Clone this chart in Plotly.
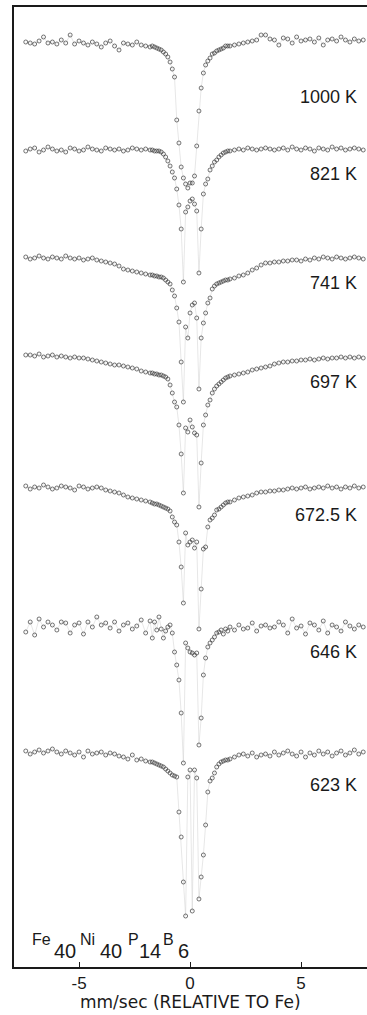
import plotly.graph_objects as go

# Doppler velocity of each channel (mm/s, relative to alpha-Fe)
velocity = [
    -7.4, -7.2, -7.0, -6.8, -6.6, -6.4, -6.2, -6.0, -5.8, -5.6, -5.4, -5.2, -5.0, -4.8, -4.6,
    -4.4, -4.2, -4.0, -3.8, -3.6, -3.4, -3.2, -3.0, -2.8, -2.6, -2.4, -2.2, -2.0, -1.8,
    -1.7, -1.6, -1.5, -1.4, -1.3, -1.2, -1.1, -1.0, -0.9, -0.8, -0.7, -0.6, -0.5, -0.4,
    -0.3, -0.2, -0.1, 0.0, 0.1, 0.2, 0.3, 0.4, 0.5, 0.6, 0.7, 0.8, 0.9, 1.0, 1.1, 1.2,
    1.3, 1.4, 1.5, 1.6, 1.7,
    1.8, 2.0, 2.2, 2.4, 2.6, 2.8, 3.0, 3.2, 3.4, 3.6, 3.8, 4.0, 4.2, 4.4, 4.6, 4.8, 5.0,
    5.2, 5.4, 5.6, 5.8, 6.0, 6.2, 6.4, 6.6, 6.8, 7.0, 7.2, 7.4, 7.6, 7.8,
]

temperatures = ["1000 K", "821 K", "741 K", "697 K", "672.5 K", "646 K", "623 K"]

# Resonant absorption of each channel, in per mille
absorption_1000K = [
    -1, 0, 1, -2, -6, 0, -1, 1, -3, 0, -8, 1, -2, 0, 2, -1, 1, 4, 0, -2, 3, 7, 0, 1, 2, -1, 2, 3, 4,
    3, 4, 5, 6, 7, 9, 11, 14, 19, 26,
    34, 77, 100, 124, 135, 141, 145, 140, 140, 133, 103, 68,
    45, 30, 22, 18, 15, 11, 10, 8, 7, 6, 5, 3, 3,
    3, 2, 1, 0, -1, -2, -3, -8, -8, -4, -3, 2, -5, -4, 0, -6, -2, -3, -4, -1, -5, 2, -3, -4,
    -2, -6, -3, -1, -4, -2, -3,
]
absorption_821K = [
    2, 0, -1, 3, 1, -2, 0, 2, 1, 3, -1, 0, 2, 1, -2, 0, 1, 2, -1, 0, 1, 0, 2, 1, -1, 0, 1, 0, 1,
    1, 2, 2, 2, 3, 5, 8, 12, 17, 23,
    29, 40, 56, 80, 133, 63, 58, 52, 50, 55, 62, 124,
    80, 45, 35, 30, 21, 17, 13, 11, 8, 6, 4, 3, 2,
    2, 1, 0, 1, -1, 0, 1, 0, -1, 0, 1, 0, -1, 1, -2, 0, 1, -1, 0, 2, -1, 0, 1, -2, 0, -1, 1,
    0, -1, 0, 1,
]
absorption_741K = [
    -1, 1, 0, -2, 0, 1, -1, 0, 1, -2, 0, 1, 0, 2, 1, 0, 2, 3, 4, 5, 6, 8, 11, 12, 13, 14, 15, 16, 17,
    17, 18, 18, 19, 19, 20, 22, 24, 26, 32,
    38, 50, 64, 104, 144, 69, 80, 55, 47, 45, 60, 131,
    80, 65, 55, 45, 40, 31, 28, 26, 25, 24, 23, 22, 22,
    21, 20, 18, 17, 15, 12, 10, 7, 5, 5, 4, 4, 3, 3, 2, 2, 3, 1, 2, 0, 1, -1, 0, 1, -1, 0, 1,
    0, -1, 0, 1,
]
absorption_697K = [
    0, 0, 1, -1, 2, 1, 0, 2, 1, 2, 3, 2, 3, 3, 4, 5, 6, 7, 8, 9, 10, 10, 11, 12, 13, 14, 16, 17, 18,
    18, 19, 19, 20, 20, 21, 22, 24, 30, 38,
    47, 52, 70, 99, 138, 73, 77, 65, 72, 78, 80, 152,
    108, 70, 60, 50, 45, 38, 34, 31, 29, 27, 25, 23, 22,
    21, 20, 19, 18, 17, 15, 14, 13, 12, 11, 9, 8, 7, 7, 6, 6, 5, 5, 4, 5, 4, 3, 4, 3, 3, 2, 3,
    2, 3, 2, 3,
]
absorption_672K = [
    -1, 2, 0, 1, -2, 0, 2, 1, -1, 0, 1, 3, -1, 0, 2, 1, 0, 1, 3, 4, 5, 6, 8, 10, 11, 12, 13, 14, 15,
    16, 17, 17, 18, 19, 20, 21, 22, 24, 30,
    35, 38, 55, 80, 116, 46, 58, 55, 53, 61, 55, 142,
    102, 62, 60, 40, 33, 31, 28, 23, 22, 20, 18, 16, 15,
    15, 13, 11, 10, 9, 8, 6, 5, 5, 4, 4, 3, 3, 2, 1, 2, 1, 0, 2, 1, 0, 1, -1, 1, 0, 2, 0, 1,
    -1, 1, 0,
]
absorption_646K = [
    7, -3, 10, -6, 2, -3, 0, 5, -3, -2, 8, 0, -2, 9, -3, 2, -8, 0, -2, 3, -3, 6, 0, -2, 4, 1, -5, 8, -4,
    13, -3, 5, -8, 4, 13, 6, 2, 0, 8,
    27, 40, 55, 88, 138, 18, 23, 27, 28, 30, 28, 120,
    93, 50, 33, 22, 18, 15, 12, 8, 7, 5, 9, 4, 6,
    2, 5, 0, 4, 3, -2, 6, 1, 0, 3, 2, -3, 0, 8, -6, 3, 1, 9, -2, 0, 5, -4, 8, 0, 2, 6, -3, 1,
    4, 0, 2,
]
absorption_623K = [
    0, 3, 1, -1, 2, 0, -2, 1, 3, 0, 2, 4, 1, 6, 0, 3, 2, 1, 4, 2, 3, 5, 6, 8, 4, 9, 8, 10, 11,
    11, 12, 13, 14, 15, 16, 18, 20, 22, 24,
    25, 26, 61, 86, 131, 165, 26, 19, 160, 19, 27, 148,
    126, 104, 74, 41, 30, 27, 22, 16, 13, 11, 10, 9, 9,
    8, 6, 4, 3, 5, 2, 6, 4, 3, 5, 1, 4, 2, 0, 3, 5, 1, 6, 2, 4, 0, 3, 1, 5, 2, 0, 4, 2, -1, 3, 1,
]

spectra = [
    absorption_1000K, absorption_821K, absorption_741K, absorption_697K,
    absorption_672K, absorption_646K, absorption_623K,
]

# Vertical stacking: baseline of each spectrum on the shared per-mille axis
stack_offsets = [924, 818, 709, 612, 480, 342, 216]
label_heights = [870, 793, 684, 585, 452, 315, 182]

FONT = "Liberation Sans"
WIDE_FONT = "DejaVu Sans"
INK = "#1a1a1a"

fig = go.Figure()

for absorption, offset in zip(spectra, stack_offsets):
    fig.add_trace(go.Scatter(
        x=velocity,
        y=[offset - a for a in absorption],
        mode="lines+markers",
        line=dict(color="#cfcfcf", width=0.5),
        marker=dict(symbol="circle-open", size=4, color="#3a3a3a",
                    line=dict(width=0.7, color="#3a3a3a")),
        showlegend=False,
        hoverinfo="skip",
        cliponaxis=True,
    ))

# Temperature of each run, right-aligned next to its spectrum
for label, h in zip(temperatures, label_heights):
    fig.add_annotation(
        x=7.62, y=h, xref="x", yref="y", text=label, showarrow=False,
        xanchor="right", yanchor="middle",
        font=dict(family=FONT, size=18, color=INK),
    )

# Alloy composition Fe40Ni40P14B6 with lowered indices
composition = [
    ("Fe", -7.21, 28, 16), ("40", -6.22, 16, 20),
    ("Ni", -5.05, 28, 16), ("40", -4.14, 16, 20),
    ("P", -2.88, 28, 16), ("14", -2.39, 16, 20),
    ("B", -1.30, 28, 16), ("6", -0.62, 16, 20),
]
for text, x, y, size in composition:
    fig.add_annotation(
        x=x, y=y, xref="x", yref="y", text=text, showarrow=False,
        xanchor="left", yanchor="middle",
        font=dict(family=FONT, size=size, color=INK),
    )

# Axis caption below the tick labels
fig.add_annotation(
    x=0.4986, y=-0.036, xref="paper", yref="paper",
    text="mm/sec (RELATIVE TO Fe)", showarrow=False,
    xanchor="center", yanchor="middle",
    font=dict(family=WIDE_FONT, size=17, color=INK),
)

fig.update_xaxes(
    range=[-7.93, 7.97],
    tickvals=[-5, 0, 5],
    ticktext=["-5", "0", "5"],
    ticks="inside", ticklen=5, tickwidth=1.2, tickcolor=INK,
    tickfont=dict(family=FONT, size=17, color=INK),
    showline=True, linewidth=1.5, linecolor=INK, mirror=True,
    showgrid=False, zeroline=False,
)
fig.update_yaxes(
    range=[0, 960],
    showline=True, linewidth=2, linecolor=INK,
    showticklabels=False, ticks="",
    showgrid=False, zeroline=False,
)

fig.update_layout(
    width=367, height=1015,
    margin=dict(l=14, r=0, t=7, b=48),
    paper_bgcolor="white", plot_bgcolor="white",
)

fig.write_html("out.html")
